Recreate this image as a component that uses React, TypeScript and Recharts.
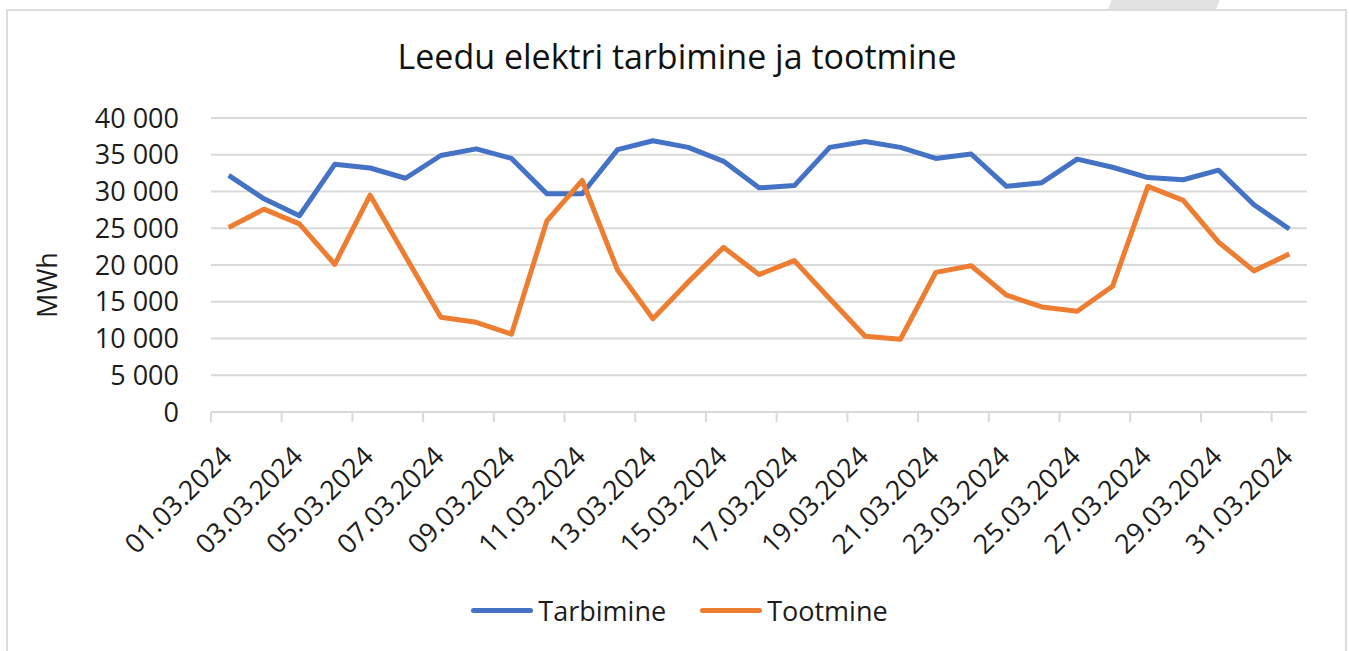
import React from 'react';
import { LineChart, Line, XAxis, YAxis, CartesianGrid, Legend, Label } from 'recharts';

const days = [
  '01.03.2024', '02.03.2024', '03.03.2024', '04.03.2024', '05.03.2024', '06.03.2024', '07.03.2024',
  '08.03.2024', '09.03.2024', '10.03.2024', '11.03.2024', '12.03.2024', '13.03.2024', '14.03.2024',
  '15.03.2024', '16.03.2024', '17.03.2024', '18.03.2024', '19.03.2024', '20.03.2024', '21.03.2024',
  '22.03.2024', '23.03.2024', '24.03.2024', '25.03.2024', '26.03.2024', '27.03.2024', '28.03.2024',
  '29.03.2024', '30.03.2024', '31.03.2024',
];

// Tarbimine (consumption), MWh
const tarbimine = [
  32200, 29000, 26700, 33700, 33200, 31800, 34900, 35800, 34500, 29700, 29700,
  35700, 36900, 36000, 34100, 30500, 30800, 36000, 36800, 36000, 34500,
  35100, 30700, 31200, 34400, 33300, 31900, 31600, 32900, 28200, 24900,
];

// Tootmine (production), MWh
const tootmine = [
  25100, 27600, 25600, 20100, 29500, 21200, 12900, 12200, 10600, 26000, 31500,
  19300, 12700, 17700, 22400, 18700, 20600, 15400, 10300, 9900, 19000,
  19900, 15900, 14300, 13700, 17100, 30700, 28800, 23100, 19200, 21500,
];

const yTicks = [0, 5000, 10000, 15000, 20000, 25000, 30000, 35000, 40000];

const data = days.map((d, i) => ({ day: d, Tarbimine: tarbimine[i], Tootmine: tootmine[i] }));

const BLUE = '#4472C4';
const ORANGE = '#ED7D31';
const GRID = '#d9d9d9';
const TEXT = '#1c1c1c';
const FONT = '"Open Sans", sans-serif';

// plot area geometry (matches the reference layout)
const PLOT_LEFT = 211;
const PLOT_RIGHT = 1307;
const BAND = (PLOT_RIGHT - PLOT_LEFT) / days.length;
const LEGEND_H = 36;

const fmt = (v: number) => (v === 0 ? '0' : v.toLocaleString('en-US').replace(/,/g, ' '));

const DateTick = (props: any) => {
  const { x, y, payload, index } = props;
  if (index % 2 !== 0) return null;
  const tx = x - BAND / 2;
  const ax = x + 5;
  const ay = y + 46;
  return (
    <g>
      <line x1={tx} x2={tx} y1={y} y2={y + 10} stroke={GRID} strokeWidth={2} />
      <text
        x={ax}
        y={ay}
        textAnchor="end"
        transform={`rotate(-45, ${ax}, ${ay})`}
        fontSize={27}
        fontFamily={FONT}
        fill={TEXT}
      >
        {payload.value}
      </text>
    </g>
  );
};

const renderLegend = () => (
  <div style={{ display: 'flex', justifyContent: 'center', alignItems: 'center', height: LEGEND_H, fontFamily: FONT, fontSize: 27, color: TEXT }}>
    {[{ name: 'Tarbimine', color: BLUE }, { name: 'Tootmine', color: ORANGE }].map((s, i) => (
      <div key={s.name} style={{ display: 'flex', alignItems: 'center', marginLeft: i === 0 ? 0 : 34 }}>
        <div style={{ width: 62, height: 5, borderRadius: 3, background: s.color, marginRight: 5 }} />
        <span>{s.name}</span>
      </div>
    ))}
  </div>
);

const App = () => {
  return (
    <div style={{ position: 'absolute', left: 0, top: 0, width: 1349, height: 651, background: '#fff', overflow: 'hidden' }}>
      <div style={{ position: 'absolute', left: 1110, top: 0, width: 108, height: 9, background: '#e2e2e2', transform: 'skewX(-20deg)' }} />
      <div style={{ position: 'absolute', left: 6, top: 9, width: 1337, height: 640, border: '2px solid #dcdcdc', background: '#fff' }} />
      <div
        style={{
          position: 'absolute', left: 0, top: 33, width: 1354, textAlign: 'center',
          fontFamily: FONT, fontSize: 34, color: '#111', whiteSpace: 'nowrap',
        }}
      >
        Leedu elektri tarbimine ja tootmine
      </div>
      <div style={{ position: 'absolute', left: 0, top: 0 }}>
        <LineChart width={1349} height={651} data={data} margin={{ top: 118, right: 1349 - PLOT_RIGHT, left: 0, bottom: 109 - LEGEND_H }}>
          <CartesianGrid vertical={false} stroke={GRID} strokeWidth={2} />
          <XAxis
            dataKey="day"
            scale="band"
            interval={0}
            height={130}
            tickSize={0}
            tickMargin={0}
            tickLine={false}
            axisLine={{ stroke: GRID, strokeWidth: 2 }}
            tick={<DateTick />}
          />
          <YAxis
            width={PLOT_LEFT}
            domain={[0, 40000]}
            ticks={yTicks}
            interval={0}
            tickFormatter={fmt}
            axisLine={false}
            tickLine={false}
            tickSize={0}
            tickMargin={32}
            tick={{ fontSize: 27, fontFamily: FONT, fill: TEXT }}
          >
            <Label
              content={() => (
                <text
                  x={46}
                  y={285}
                  transform="rotate(-90, 46, 285)"
                  textAnchor="middle"
                  dominantBaseline="central"
                  fontSize={27}
                  fontFamily={FONT}
                  fill={TEXT}
                >
                  MWh
                </text>
              )}
            />
          </YAxis>
          <Legend content={renderLegend} wrapperStyle={{ position: 'absolute', top: 592, left: 0, width: 1359, height: LEGEND_H }} />
          <Line type="linear" dataKey="Tarbimine" stroke={BLUE} strokeWidth={5} dot={false} isAnimationActive={false} strokeLinejoin="round" />
          <Line type="linear" dataKey="Tootmine" stroke={ORANGE} strokeWidth={5} dot={false} isAnimationActive={false} strokeLinejoin="round" />
        </LineChart>
      </div>
    </div>
  );
};

export default App;
